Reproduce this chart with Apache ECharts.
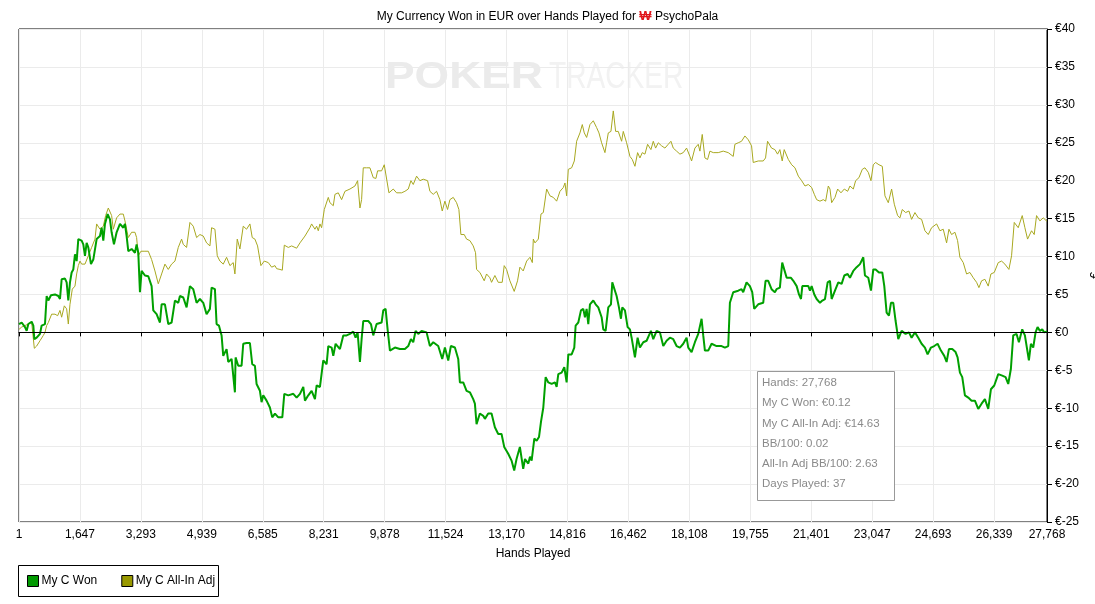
<!DOCTYPE html>
<html>
<head>
<meta charset="utf-8">
<script src="https://cdn.jsdelivr.net/npm/echarts@6.0.0/dist/echarts.min.js"></script>
<style>
  html, body { margin: 0; padding: 0; background: #fff; }
  #chart { width: 1095px; height: 604px; }
</style>
</head>
<body>
<div id="chart"></div>
<script>
// x axis tick positions (hands)
const handTicks = [1, 1647, 3293, 4939, 6585, 8231, 9878, 11524, 13170, 14816,
    16462, 18108, 19755, 21401, 23047, 24693, 26339, 27768];

// My C Won: [hand, EUR]
const wonPoints = [
    [1, 1.1], [73, 1.3], [163, 0.7], [208, 0.2], [253, 1.1], [343, 1.4], [388, 0.9], [415, -0.9],
    [478, -0.7], [568, -0.2], [613, 0.9], [703, 1.1], [748, 4.8], [793, 4.2], [865, 4.9], [973, 5.0],
    [1063, 4.8], [1108, 4.4], [1153, 7.0], [1243, 7.1], [1288, 6.6], [1333, 4.2], [1378, 6.6], [1423, 7.9],
    [1468, 8.3], [1513, 10.3], [1558, 9.4], [1603, 12.3], [1693, 12.1], [1738, 11.6], [1783, 10.1], [1828, 11.8],
    [1873, 11.2], [1945, 9.0], [2008, 9.6], [2098, 12.3], [2188, 12.7], [2233, 13.8], [2278, 12.1], [2323, 14.3],
    [2395, 15.6], [2458, 14.9], [2503, 13.2], [2566, 11.6], [2638, 13.2], [2728, 14.3], [2818, 13.8], [2863, 14.3],
    [2908, 12.7], [2953, 10.7], [3043, 11.0], [3133, 10.5], [3178, 11.6], [3223, 10.5], [3268, 5.3], [3313, 8.1],
    [3403, 7.5], [3493, 7.4], [3583, 6.1], [3628, 2.9], [3718, 2.4], [3808, 1.3], [3853, 3.7], [3943, 3.7],
    [4033, 1.1], [4123, 1.3], [4213, 4.2], [4303, 3.9], [4348, 4.8], [4438, 4.6], [4528, 3.3], [4618, 6.1],
    [4708, 5.7], [4798, 3.9], [4888, 4.4], [4978, 3.9], [5068, 2.4], [5158, 3.1], [5203, 5.9], [5293, 5.7],
    [5338, 1.1], [5401, 0.9], [5473, -0.4], [5518, -3.1], [5608, -2.2], [5653, -3.9], [5743, -3.5], [5833, -7.9],
    [5851, -3.3], [5923, -4.4], [6013, -4.4], [6058, -1.5], [6148, -1.4], [6238, -1.4], [6301, -4.2], [6373, -4.4],
    [6418, -6.8], [6508, -7.7], [6553, -9.2], [6598, -8.3], [6688, -9.0], [6778, -9.9], [6841, -11.2], [6915, -10.7],
    [7005, -11.2], [7113, -11.2], [7167, -8.1], [7275, -8.3], [7410, -8.1], [7500, -8.6], [7590, -8.1], [7680, -7.2],
    [7725, -9.0], [7815, -8.3], [7905, -7.7], [7995, -8.8], [8040, -7.0], [8130, -7.2], [8220, -3.7], [8310, -4.2],
    [8355, -1.8], [8445, -2.0], [8490, -3.1], [8553, -1.5], [8670, -2.2], [8760, -0.4], [8850, -0.4], [8940, -0.2],
    [9030, 0.1], [9093, -0.7], [9147, 0], [9210, -3.9], [9255, -0.9], [9300, 1.5], [9435, 1.5], [9507, 1.1],
    [9570, -0.4], [9660, 1.1], [9795, 1.3], [9840, 2.9], [9903, 3.1], [9957, 0.4], [10020, -2.4], [10155, -2.0],
    [10290, -2.2], [10425, -2.2], [10515, -1.8], [10587, -0.9], [10650, -1.3], [10713, 0.2], [10785, -0.2], [10875, 0.2],
    [11010, 0], [11100, -1.8], [11190, -1.3], [11325, -1.8], [11433, -3.5], [11505, -2.0], [11595, -3.7], [11667, -1.8],
    [11775, -2.0], [11865, -3.5], [11910, -6.6], [12000, -6.6], [12090, -7.7], [12180, -7.9], [12270, -8.8], [12315, -9.4],
    [12360, -12.1], [12450, -10.7], [12540, -11.0], [12585, -11.4], [12675, -10.7], [12765, -10.7], [12855, -12.5], [12945, -13.4],
    [13035, -13.4], [13107, -15.1], [13215, -16.0], [13305, -16.9], [13377, -18.2], [13440, -16.7], [13530, -15.1], [13620, -18.0],
    [13668, -16.7], [13758, -17.3], [13803, -16.4], [13848, -16.9], [13920, -14.0], [13983, -14.3], [14046, -13.8], [14100, -11.8],
    [14163, -9.9], [14226, -5.9], [14298, -6.6], [14388, -6.8], [14478, -6.6], [14523, -7.2], [14568, -5.5], [14658, -5.3],
    [14730, -4.6], [14793, -6.6], [14838, -2.9], [14928, -2.9], [15000, -2.0], [15036, 0.9], [15108, 1.3], [15180, 2.9],
    [15243, 3.1], [15288, 2.0], [15333, 3.1], [15378, 1.1], [15423, 3.7], [15513, 4.2], [15576, 3.7], [15648, 3.3],
    [15738, 2.0], [15783, 0.4], [15846, 0.2], [15918, 3.3], [15990, 3.7], [16026, 6.6], [16080, 6.6], [16143, 4.8],
    [16206, 3.3], [16260, 1.8], [16296, 3.3], [16368, 2.9], [16440, 0.7], [16503, 0.4], [16548, -0.7], [16638, -3.3],
    [16710, -0.7], [16773, -2.0], [16863, -1.3], [16953, -1.1], [17070, 0.2], [17133, -0.9], [17223, 0.2], [17313, 0],
    [17403, -1.8], [17493, -1.1], [17583, -0.7], [17673, -0.9], [17763, -1.8], [17853, -2.0], [17943, -1.5], [18033, -0.7],
    [18078, -2.0], [18168, -2.6], [18258, -1.3], [18348, -0.2], [18438, 1.8], [18483, -0.4], [18528, -2.4], [18618, -2.4],
    [18708, -1.5], [18843, -1.8], [18978, -1.8], [19068, -2.0], [19158, -1.8], [19203, 3.9], [19293, 5.3], [19428, 5.5],
    [19518, 5.7], [19563, 5.3], [19653, 6.6], [19743, 6.1], [19806, 5.3], [19860, 3.1], [19968, 3.7], [20103, 3.9],
    [20166, 6.8], [20238, 6.8], [20328, 5.7], [20418, 5.3], [20463, 5.7], [20553, 5.9], [20616, 9.2], [20670, 9.2],
    [20736, 7.2], [20781, 7.0], [20853, 7.2], [20916, 6.8], [21006, 6.1], [21069, 5.0], [21123, 4.4], [21159, 6.1],
    [21231, 6.1], [21321, 6.1], [21366, 5.5], [21411, 6.1], [21483, 5.0], [21546, 4.4], [21636, 3.9], [21699, 4.2],
    [21771, 4.4], [21843, 6.6], [21906, 6.8], [21951, 4.4], [22041, 5.5], [22131, 6.6], [22221, 6.4], [22293, 7.5],
    [22383, 7.7], [22446, 7.2], [22536, 8.1], [22626, 8.6], [22716, 9.0], [22806, 9.9], [22851, 7.5], [22941, 7.2],
    [23013, 5.5], [23076, 8.3], [23139, 8.3], [23229, 7.9], [23319, 7.9], [23373, 6.1], [23436, 2.6], [23499, 2.2],
    [23553, 3.9], [23616, 3.9], [23679, 1.5], [23751, -0.9], [23841, 0.2], [23949, -0.2], [24039, 0], [24111, -0.7],
    [24201, 0], [24291, -0.7], [24381, -1.5], [24471, -2.0], [24543, -2.9], [24633, -2.0], [24723, -1.8], [24813, -1.5],
    [24903, -2.4], [24993, -3.1], [25056, -3.9], [25119, -2.2], [25209, -2.2], [25299, -2.6], [25353, -3.3], [25416, -5.3],
    [25479, -5.9], [25551, -8.3], [25641, -8.6], [25731, -9.0], [25821, -9.0], [25911, -10.1], [26001, -9.4], [26091, -8.8],
    [26181, -10.1], [26253, -7.5], [26343, -7.0], [26451, -5.5], [26559, -5.7], [26649, -5.9], [26721, -6.8], [26793, -4.8],
    [26856, -0.4], [26946, -0.2], [27009, -1.3], [27099, 0.4], [27171, -0.4], [27216, -0.2], [27279, -3.7], [27333, -1.5],
    [27396, -2.0], [27459, 0], [27513, 0.7], [27576, 0.2], [27639, 0.4], [27693, 0], [27768, 0.12]
];

// My C All-In Adj: [hand, EUR]
const adjPoints = [
    [1, 0.4], [73, 0.7], [253, 1.1], [343, 1.3], [415, -2.1], [478, -1.8], [568, -1.1], [658, -0.4],
    [703, 0], [748, 0.9], [793, 1.3], [883, 2.4], [973, 2.4], [1045, 2.2], [1108, 2.9], [1153, 2.0],
    [1225, 3.5], [1288, 3.1], [1333, 1.1], [1378, 3.7], [1441, 5.7], [1513, 6.1], [1558, 7.7], [1603, 8.8],
    [1648, 9.4], [1693, 9.0], [1783, 9.0], [1873, 10.1], [1963, 11.2], [2053, 12.3], [2098, 14.3], [2188, 13.6],
    [2278, 14.0], [2341, 15.4], [2413, 16.4], [2503, 15.4], [2548, 13.6], [2638, 15.1], [2728, 15.6], [2818, 15.6],
    [2863, 14.7], [2953, 12.5], [3043, 13.2], [3133, 13.2], [3178, 12.5], [3223, 10.1], [3295, 10.7], [3403, 10.7],
    [3493, 10.7], [3583, 9.6], [3673, 8.1], [3763, 6.4], [3853, 7.7], [3943, 9.0], [4033, 8.3], [4123, 9.0],
    [4213, 9.4], [4303, 11.2], [4393, 12.3], [4438, 11.6], [4528, 11.2], [4618, 14.5], [4708, 14.0], [4798, 12.5],
    [4888, 12.9], [4978, 12.7], [5068, 11.8], [5158, 11.4], [5203, 13.8], [5293, 13.6], [5356, 10.1], [5428, 9.4],
    [5518, 9.0], [5608, 9.9], [5698, 8.8], [5788, 9.2], [5833, 7.7], [5896, 12.3], [5968, 11.0], [6058, 14.0],
    [6148, 13.6], [6238, 14.3], [6301, 12.5], [6373, 12.3], [6445, 11.4], [6535, 8.8], [6625, 9.4], [6735, 9.2],
    [6825, 8.6], [6915, 8.8], [6960, 8.4], [7050, 8.3], [7113, 8.2], [7167, 11.5], [7275, 11.2], [7365, 11.4],
    [7500, 11.1], [7590, 11.8], [7725, 12.7], [7860, 13.8], [7905, 14.3], [7995, 13.6], [8040, 14.0], [8085, 13.4],
    [8130, 14.3], [8175, 13.8], [8247, 16.2], [8355, 17.8], [8400, 17.1], [8490, 16.7], [8535, 18.2], [8625, 18.4],
    [8715, 17.5], [8805, 18.6], [8940, 18.9], [9075, 19.3], [9147, 20.0], [9210, 16.4], [9255, 17.5], [9300, 21.7],
    [9390, 21.7], [9480, 21.7], [9570, 20.4], [9642, 20.3], [9687, 21.3], [9795, 21.3], [9867, 22.1], [9912, 21.9],
    [9993, 18.4], [10110, 18.9], [10200, 18.4], [10335, 18.4], [10425, 18.6], [10515, 18.9], [10587, 20.0], [10650, 19.5],
    [10740, 20.6], [10830, 20.0], [10920, 20.2], [11037, 20.0], [11100, 18.6], [11190, 18.2], [11280, 18.6], [11370, 17.5],
    [11433, 16.0], [11505, 17.3], [11577, 16.2], [11640, 17.5], [11730, 17.8], [11820, 17.1], [11883, 16.2], [11937, 12.9],
    [12027, 12.9], [12090, 12.3], [12180, 12.1], [12270, 11.4], [12333, 10.5], [12360, 8.3], [12450, 7.9], [12567, 6.8],
    [12630, 7.7], [12720, 7.2], [12765, 6.6], [12855, 7.5], [12945, 6.6], [13053, 6.6], [13107, 8.8], [13170, 8.3],
    [13260, 6.8], [13377, 5.4], [13467, 6.8], [13530, 8.6], [13620, 8.1], [13713, 9.4], [13803, 9.9], [13866, 9.2],
    [13893, 12.3], [13938, 11.8], [14028, 12.3], [14100, 15.6], [14163, 15.8], [14253, 18.9], [14343, 18.0], [14433, 17.8],
    [14523, 17.3], [14613, 18.6], [14703, 19.1], [14748, 19.7], [14793, 18.0], [14838, 21.5], [14928, 21.7], [15000, 22.6],
    [15063, 25.2], [15153, 26.3], [15216, 27.4], [15270, 26.3], [15333, 25.7], [15423, 27.4], [15513, 27.9], [15603, 27.0],
    [15666, 26.3], [15738, 25.0], [15828, 23.7], [15873, 25.0], [15918, 26.3], [15990, 26.5], [16053, 29.2], [16116, 26.5],
    [16188, 26.5], [16278, 25.2], [16323, 26.5], [16413, 25.0], [16503, 23.2], [16566, 22.8], [16638, 21.9], [16710, 23.7],
    [16773, 23.0], [16836, 23.7], [16908, 23.5], [16980, 24.8], [17070, 24.1], [17133, 25.2], [17196, 24.3], [17268, 25.0],
    [17358, 24.6], [17448, 24.3], [17538, 24.8], [17610, 25.2], [17673, 24.3], [17763, 23.9], [17853, 23.5], [17943, 23.7],
    [18033, 24.3], [18123, 23.2], [18168, 22.6], [18258, 24.3], [18348, 24.8], [18393, 23.9], [18456, 26.1], [18528, 23.0],
    [18600, 22.8], [18663, 23.9], [18753, 23.7], [18888, 23.7], [19023, 23.9], [19158, 23.7], [19293, 23.2], [19338, 24.8],
    [19428, 25.0], [19518, 25.2], [19608, 25.9], [19698, 25.4], [19788, 24.6], [19833, 22.4], [19968, 22.6], [20103, 22.6],
    [20166, 23.0], [20220, 25.2], [20328, 24.3], [20418, 24.1], [20490, 23.5], [20553, 24.1], [20616, 22.6], [20670, 24.1],
    [20781, 22.8], [20871, 22.1], [20961, 21.7], [21051, 20.6], [21141, 20.0], [21231, 19.3], [21321, 19.5], [21411, 19.1],
    [21483, 18.2], [21546, 17.5], [21636, 17.3], [21726, 17.5], [21789, 17.3], [21861, 19.3], [21906, 18.9], [21951, 17.1],
    [22041, 17.8], [22113, 18.9], [22203, 18.4], [22293, 18.9], [22383, 18.6], [22446, 19.3], [22536, 18.9], [22599, 20.0],
    [22689, 20.4], [22779, 21.5], [22851, 21.7], [22941, 21.1], [23013, 20.0], [23076, 22.1], [23139, 22.4], [23229, 22.1],
    [23319, 21.9], [23391, 18.0], [23481, 17.1], [23571, 18.9], [23643, 16.9], [23733, 15.4], [23796, 15.1], [23859, 16.2],
    [23949, 15.8], [24039, 16.0], [24111, 14.9], [24201, 15.8], [24291, 15.1], [24381, 14.9], [24471, 13.4], [24561, 12.9],
    [24651, 13.8], [24786, 14.3], [24876, 13.4], [24966, 13.6], [25056, 11.8], [25119, 13.6], [25191, 12.9], [25281, 13.2],
    [25353, 12.1], [25416, 9.9], [25506, 9.2], [25596, 7.7], [25686, 7.9], [25776, 7.2], [25866, 6.6], [25929, 5.9],
    [26001, 6.8], [26091, 7.0], [26181, 6.1], [26253, 7.7], [26343, 7.9], [26451, 9.2], [26541, 9.4], [26631, 9.0],
    [26739, 8.3], [26811, 10.1], [26883, 14.5], [26991, 13.8], [27099, 15.4], [27171, 13.8], [27243, 12.3], [27279, 12.1],
    [27351, 13.4], [27423, 12.9], [27486, 15.4], [27576, 14.7], [27666, 15.1], [27768, 14.63]
];

// summary box texts
const statLines = [
    'Hands: 27,768',
    'My C Won: €0.12',
    'My C All-In Adj: €14.63',
    'BB/100: 0.02',
    'All-In Adj BB/100: 2.63',
    'Days Played: 37'
];

const FONT = 'Liberation Sans';
const chart = echarts.init(document.getElementById('chart'));

// 汇总框文字
const statTexts = statLines.map((t, i) => ({
    type: 'text',
    z: 11,
    style: {
        text: t, x: 762, y: 383 + i * 20.2,
        verticalAlign: 'middle',
        font: '11.5px ' + FONT,
        fill: '#8a8a8a'
    }
}));

const option = {
    animation: false,
    textStyle: { fontFamily: FONT },
    title: {
        text: 'My Currency Won in EUR over Hands Played for {w|₩} PsychoPala',
        left: 'center',
        top: 5,
        textStyle: {
            fontSize: 12,
            fontWeight: 'normal',
            color: '#000',
            fontFamily: FONT,
            rich: { w: { color: '#e0161b', fontWeight: 'bold', fontSize: 13 } }
        }
    },
    grid: {
        left: 19, right: 48, top: 29, bottom: 82,
        outerBoundsMode: 'none',
        containLabel: false,
        show: true, borderColor: '#000', borderWidth: 1
    },
    legend: {
        left: 22,
        top: 570,
        icon: 'rect',
        itemWidth: 11,
        itemHeight: 11,
        itemGap: 24,
        textStyle: { fontSize: 12, color: '#000', fontFamily: FONT, padding: [0, 0, 0, -2] },
        data: [
            { name: 'My C Won', itemStyle: { color: '#009900', borderColor: '#000', borderWidth: 1 } },
            { name: 'My C All-In Adj', itemStyle: { color: '#999900', borderColor: '#000', borderWidth: 1 } }
        ]
    },
    xAxis: {
        type: 'value',
        min: 1,
        max: 27768,
        name: 'Hands Played',
        nameLocation: 'middle',
        nameGap: 26,
        nameTextStyle: { fontSize: 12, color: '#000', fontFamily: FONT },
        axisLine: { lineStyle: { color: '#000' } },
        axisTick: { customValues: handTicks, length: 4, lineStyle: { color: '#000' } },
        axisLabel: {
            customValues: handTicks,
            formatter: (v) => Math.round(v).toLocaleString('en-US'),
            color: '#000', fontSize: 12, margin: 7
        },
        splitLine: { show: true, lineStyle: { color: '#ebebeb' } }
    },
    yAxis: {
        type: 'value',
        position: 'right',
        min: -25,
        max: 40,
        interval: 5,
        name: '€',
        nameLocation: 'middle',
        nameRotate: 90,
        nameGap: 42,
        nameTextStyle: { fontSize: 12, color: '#000', fontFamily: FONT },
        axisLine: { show: true, lineStyle: { color: '#000' } },
        axisTick: { show: true, length: 5, lineStyle: { color: '#000' } },
        axisLabel: { formatter: (v) => '€' + v, color: '#000', fontSize: 12, margin: 8 },
        splitLine: { show: true, lineStyle: { color: '#ebebeb' } }
    },
    series: [
        {
            name: 'My C All-In Adj',
            type: 'line',
            z: 2,
            showSymbol: false,
            data: adjPoints,
            itemStyle: { color: '#999900' },
            lineStyle: { color: '#a8a820', width: 1 }
        },
        {
            name: 'My C Won',
            type: 'line',
            z: 3,
            showSymbol: false,
            data: wonPoints,
            itemStyle: { color: '#009900' },
            lineStyle: { color: '#00a000', width: 2 },
            markLine: {
                silent: true,
                symbol: 'none',
                label: { show: false },
                lineStyle: { color: '#000', width: 1, type: 'solid' },
                data: [{ yAxis: 0 }]
            }
        }
    ],
    graphic: [
        // 水印
        {
            type: 'text', x: 385, y: 78, scaleX: 1.2, z: 0, silent: true,
            style: { text: 'POKER', font: 'bold 37px ' + FONT, fill: '#ebebeb', verticalAlign: 'middle' }
        },
        {
            type: 'text', x: 549, y: 78, scaleX: 0.76, z: 0, silent: true,
            style: { text: 'TRACKER', font: '37px ' + FONT, fill: '#f2f2f2', verticalAlign: 'middle' }
        },
        // 图例边框
        {
            type: 'rect', z: 10, silent: true,
            shape: { x: 18.5, y: 565.5, width: 200, height: 31 },
            style: { fill: 'none', stroke: '#000', lineWidth: 1 }
        },
        // 汇总框
        {
            type: 'rect', z: 10, silent: true,
            shape: { x: 757.5, y: 371.5, width: 137, height: 129 },
            style: { fill: '#fff', stroke: '#999', lineWidth: 1 }
        }
    ].concat(statTexts)
};

chart.setOption(option);
</script>
</body>
</html>
